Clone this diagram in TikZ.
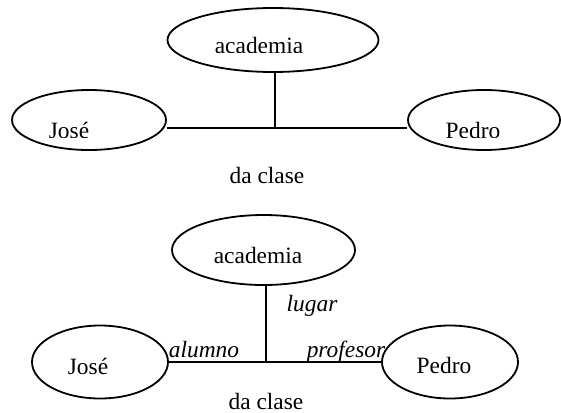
\documentclass[tikz,border=0pt]{standalone}
\usepackage{fontspec}
\setmainfont{Liberation Serif}
\usetikzlibrary{shapes.geometric,positioning}

\begin{document}
\begin{tikzpicture}[x=0.5pt,y=-0.5pt,
    ent/.style={ellipse,draw,line width=0.9pt,inner sep=0pt},
    lbl/.style={anchor=base,inner sep=0pt,font=\fontsize{11.7}{14}\selectfont},
    rol/.style={anchor=base,inner sep=0pt,font=\fontsize{11.7}{14}\selectfont\itshape},
    rel/.style={line width=0.9pt}]
    \useasboundingbox (0,0) rectangle (561,412);

    % Top: entities
    \node[ent,minimum width=105.5pt,minimum height=32pt] (aca1) at (273,40) {};
    \node[ent,minimum width=77pt,minimum height=30pt] (jose1) at (89,120) {};
    \node[ent,minimum width=76pt,minimum height=30pt] (pedro1) at (484,120) {};
    \coordinate (hub1) at (275,128);

    % Top: names (cut off at the bottom)
    \begin{scope}
        \clip (0,0) rectangle (561,52);
        \node[lbl] (acatxt1) at (259,53.5) {academia};
    \end{scope}
    \begin{scope}
        \clip (0,100) rectangle (561,137);
        \node[lbl] (josetxt1) at (69,138.5) {José};
        \node[lbl] (pedrotxt1) at (473,138.5) {Pedro};
    \end{scope}

    % Top: connectors
    \draw[rel] (jose1.east |- hub1) -- (pedro1.west |- hub1);
    \draw[rel] (aca1.south -| hub1) -- (hub1);

    \node[lbl] (rel1) at (267,183) {da clase};

    % Bottom: entities
    \node[ent,minimum width=91.5pt,minimum height=35pt] (aca2) at (263.5,250) {};
    \node[ent,minimum width=68pt,minimum height=36.5pt] (jose2) at (100,362) {};
    \node[ent,minimum width=68pt,minimum height=36.5pt] (pedro2) at (450,362) {};
    \coordinate (hub2) at (266,362);

    \node[lbl] (acatxt2) at (258,263) {academia};
    \node[lbl] (josetxt2) at (88,374) {José};
    \node[lbl] (pedrotxt2) at (444,373) {Pedro};

    % Bottom: connectors
    \foreach \i/\j in {jose2/hub2, hub2/pedro2} {
        \draw[rel] (\i) -- (\j);
    }
    \draw[rel] (aca2.south -| hub2) -- (hub2);

    % Roles
    \node[rol] (lugar) at (312,311) {lugar};
    \node[rol] (alumno) at (204,357) {alumno};
    \node[rol] (profesor) at (346,357) {profesor};

    \node[lbl] (rel2) at (266,409) {da clase};
\end{tikzpicture}
\end{document}
